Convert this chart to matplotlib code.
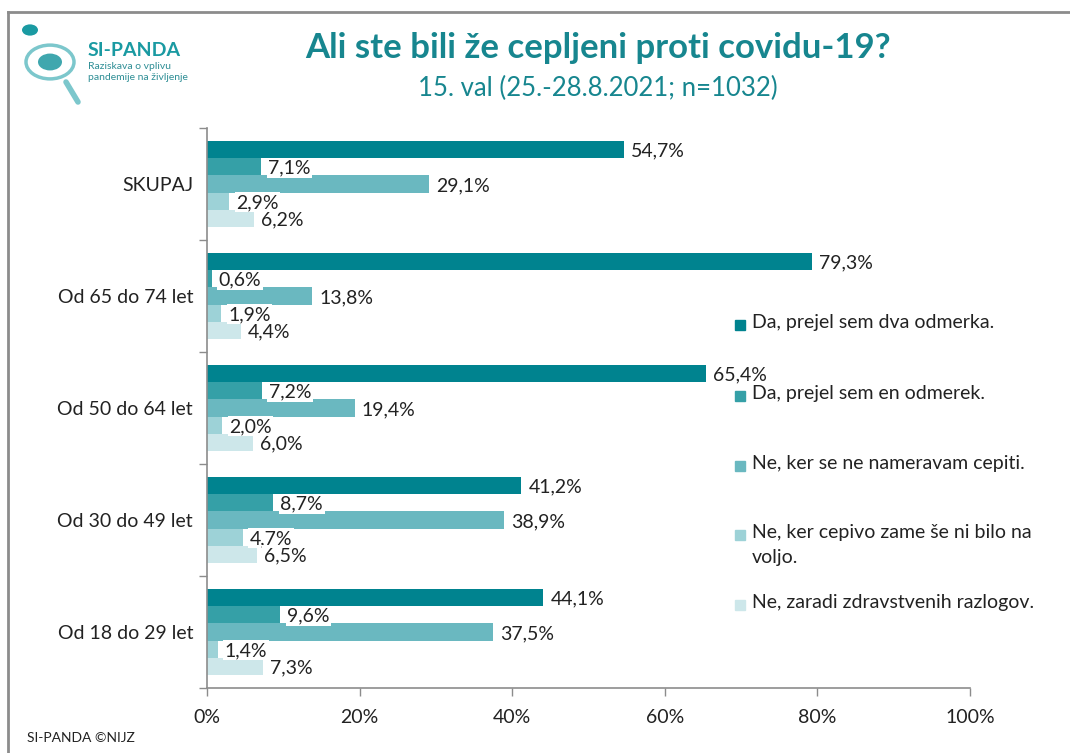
import matplotlib
matplotlib.use("Agg")
import matplotlib.pyplot as plt
import numpy as np
from matplotlib.patches import Rectangle, Circle
from matplotlib.lines import Line2D

plt.rcParams['font.family'] = ['Lato', 'DejaVu Sans']

categories = ["SKUPAJ", "Od 65 do 74 let", "Od 50 do 64 let", "Od 30 do 49 let", "Od 18 do 29 let"]
series_names = [
    "Da, prejel sem dva odmerka.",
    "Da, prejel sem en odmerek.",
    "Ne, ker se ne nameravam cepiti.",
    "Ne, ker cepivo zame še ni bilo na\nvoljo.",
    "Ne, zaradi zdravstvenih razlogov.",
]
da_dva = [54.7, 79.3, 65.4, 41.2, 44.1]
da_en = [7.1, 0.6, 7.2, 8.7, 9.6]
ne_namer = [29.1, 13.8, 19.4, 38.9, 37.5]
ne_cepivo = [2.9, 1.9, 2.0, 4.7, 1.4]
ne_zdrav = [6.2, 4.4, 6.0, 6.5, 7.3]
series = [da_dva, da_en, ne_namer, ne_cepivo, ne_zdrav]
colors = ["#00838F", "#35A0A7", "#6AB8C0", "#9DD2D7", "#CDE7EA"]
xticks = [0, 20, 40, 60, 80, 100]

title_col = "#17868F"
axis_col = "#8C8C8C"
txt_col = "#222222"
fs = 14

fig = plt.figure(figsize=(10.70, 7.53), dpi=100)
ax = fig.add_axes([207/1070, 1-688/753, (970-207)/1070, (688-128)/753])

n = len(categories)
y = np.arange(n)
bh = 0.152
for i, (vals, c) in enumerate(zip(series, colors)):
    pos = y - 2*bh + i*bh
    ax.barh(pos, vals, height=bh, color=c, zorder=2)
    for p, v in zip(pos, vals):
        ax.annotate(f"{v:.1f}%".replace(".", ","), xy=(v, p), xytext=(5, -1),
                    textcoords="offset points", va="center", ha="left",
                    fontsize=fs, color=txt_col, zorder=3,
                    bbox=dict(boxstyle="square,pad=0.08", fc="white", ec="none"))

ax.set_xlim(0, 100)
ax.set_ylim(n-0.5, -0.5)
ax.set_xticks(xticks)
ax.set_xticklabels([f"{t}%" for t in xticks], fontsize=fs, color=txt_col)
ax.set_yticks(y)
ax.set_yticklabels(categories, fontsize=fs, color=txt_col)
ax.set_yticks(np.arange(-0.5, n, 1), minor=True)
ax.tick_params(axis="y", which="major", length=0, pad=10)
ax.tick_params(axis="y", which="minor", length=6, color=axis_col, width=1)
ax.tick_params(axis="x", length=6, color=axis_col, width=1, pad=9)
for s in ["top", "right"]:
    ax.spines[s].set_visible(False)
for s in ["left", "bottom"]:
    ax.spines[s].set_color(axis_col)
    ax.spines[s].set_linewidth(1.2)

# Legend (manual layout)
leg_y = [325, 396, 466, 535, 605]
for name, c, ly in zip(series_names, colors, leg_y):
    fy = 1 - ly/753
    fig.patches.append(Rectangle((735/1070, fy - 5/753), 10/1070, 10/753,
                                 transform=fig.transFigure, color=c))
    fig.text(752/1070, fy + 11/753, name, fontsize=fs, color=txt_col,
             va="top", ha="left", linespacing=1.6)

# Titles
fig.text(598/1070, 1-48/753, "Ali ste bili že cepljeni proti covidu-19?",
         fontsize=25, fontweight="bold", color=title_col, ha="center", va="center")
fig.text(598/1070, 1-88/753, "15. val (25.-28.8.2021; n=1032)",
         fontsize=18.5, color=title_col, ha="center", va="center")

# Frame lines
fig.add_artist(Line2D([8/1070, 8/1070], [0, 1-12/753], transform=fig.transFigure,
                      color=axis_col, lw=2))
fig.add_artist(Line2D([8/1070, 1], [1-12/753, 1-12/753], transform=fig.transFigure,
                      color=axis_col, lw=2))

# Logo approximation
logo_col = "#1A9AA2"
fig.patches.append(Circle((50/1070, 1-62/753), 24/1070, transform=fig.transFigure,
                          fill=False, ec="#7CC7CC", lw=2.5))
fig.patches.append(Circle((50/1070, 1-62/753), 12/1070, transform=fig.transFigure,
                          fc="#3FA7AE", ec="none"))
fig.add_artist(Line2D([66/1070, 78/1070], [1-82/753, 1-102/753], transform=fig.transFigure,
                      color="#7CC7CC", lw=4, solid_capstyle="round"))
fig.patches.append(Circle((30/1070, 1-30/753), 8/1070, transform=fig.transFigure,
                          fc=logo_col, ec="none"))
fig.text(88/1070, 1-50/753, "SI-PANDA", fontsize=14, fontweight="bold",
         color=logo_col, ha="left", va="center")
fig.text(88/1070, 1-72/753, "Raziskava o vplivu\npandemije na življenje", fontsize=7.5,
         color="#2E8E95", ha="left", va="center", linespacing=1.2)

# Footer
fig.text(27/1070, 1-738/753, "SI-PANDA ©NIJZ", fontsize=10, color=txt_col,
         ha="left", va="center")

fig.savefig("out.png", dpi=100)
